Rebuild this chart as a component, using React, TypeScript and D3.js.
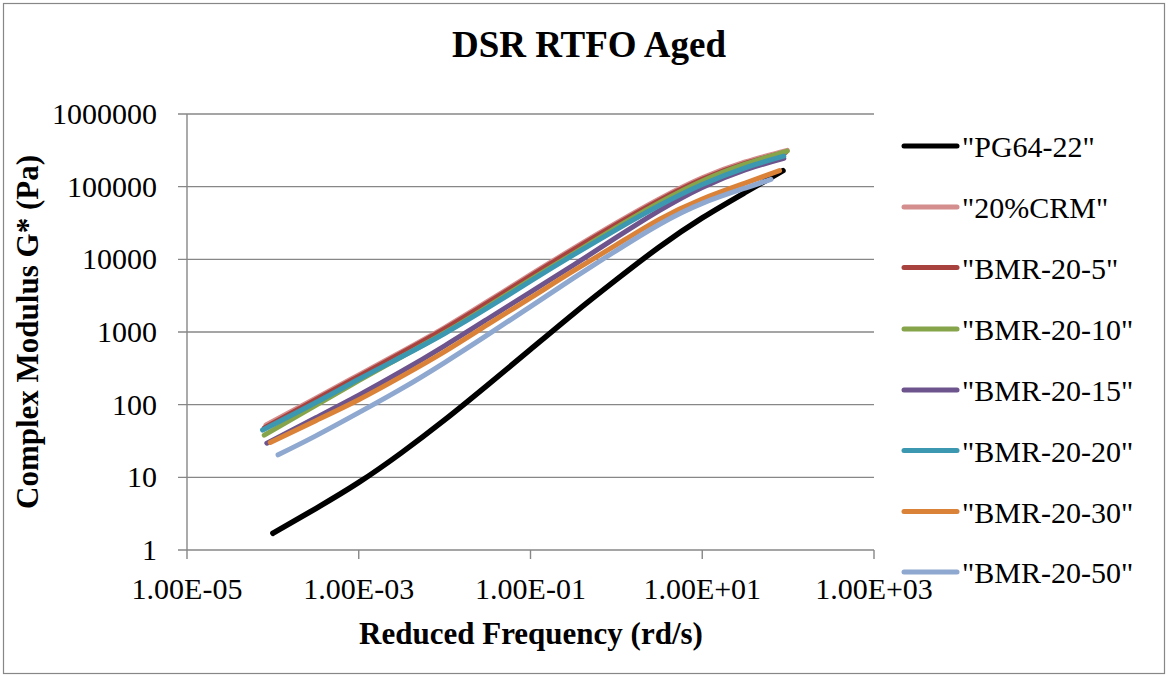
import React from "react";
import * as d3 from "d3";

// ---- Data ----
const seriesNames = [
  '"PG64-22"',
  '"20%CRM"',
  '"BMR-20-5"',
  '"BMR-20-10"',
  '"BMR-20-15"',
  '"BMR-20-20"',
  '"BMR-20-30"',
  '"BMR-20-50"',
];
const seriesColors = ["#000000", "#D48E8D", "#A8423F", "#86A44A", "#6E548D", "#3C97B0", "#DB8239", "#8EA8D0"];

const freqPG = [1.0e-4, 3.16e-4, 1e-3, 3.16e-3, 0.01, 0.0316, 0.1, 0.316, 1, 3.16, 10, 31.6, 87.1];
const gPG = [1.7, 3.72, 8.51, 21.9, 61.7, 186, 575, 1780, 5250, 14800, 37200, 83200, 166000];

const freqCRM = [8.32e-5, 3.16e-4, 1e-3, 3.16e-3, 0.01, 0.0316, 0.1, 0.316, 1, 3.16, 10, 31.6, 97.7];
const gCRM = [52.5, 123, 257, 537, 1150, 2630, 6170, 14100, 31600, 67600, 132000, 219000, 316000];

const freqB5 = [7.94e-5, 3.16e-4, 1e-3, 3.16e-3, 0.01, 0.0316, 0.1, 0.316, 1, 3.16, 10, 31.6, 93.3];
const gB5 = [47.9, 117, 245, 513, 1100, 2510, 5890, 13500, 30200, 64600, 126000, 209000, 295000];

const freqB10 = [7.94e-5, 3.16e-4, 1e-3, 3.16e-3, 0.01, 0.0316, 0.1, 0.316, 1, 3.16, 10, 31.6, 97.7];
const gB10 = [38.0, 97.7, 214, 457, 977, 2240, 5250, 12000, 27500, 60300, 120000, 204000, 309000];

const freqB15 = [8.51e-5, 3.16e-4, 1e-3, 3.16e-3, 0.01, 0.0316, 0.1, 0.316, 1, 3.16, 10, 31.6, 89.1];
const gB15 = [29.5, 66.1, 135, 288, 646, 1510, 3550, 8320, 20000, 46800, 97700, 170000, 245000];

const freqB20 = [7.59e-5, 3.16e-4, 1e-3, 3.16e-3, 0.01, 0.0316, 0.1, 0.316, 1, 3.16, 10, 31.6, 89.1];
const gB20 = [44.7, 107, 224, 457, 955, 2140, 5010, 11500, 25700, 55000, 107000, 182000, 263000];

const freqB30 = [9.33e-5, 3.16e-4, 1e-3, 3.16e-3, 0.01, 0.0316, 0.1, 0.316, 1, 3.16, 10, 31.6, 79.4];
const gB30 = [30.2, 60.3, 117, 245, 537, 1260, 2950, 6920, 15800, 35500, 67600, 112000, 166000];

const freqB50 = [1.15e-4, 3.16e-4, 1e-3, 3.16e-3, 0.01, 0.0316, 0.1, 0.316, 1, 3.16, 10, 31.6, 63.1];
const gB50 = [20.4, 37.2, 77.6, 166, 380, 912, 2240, 5500, 13200, 30200, 58900, 95500, 126000];

const xTicks = [1e-5, 1e-3, 1e-1, 1e1, 1e3];
const xTickLabels = ["1.00E-05", "1.00E-03", "1.00E-01", "1.00E+01", "1.00E+03"];
const yTicks = [1, 10, 100, 1000, 10000, 100000, 1000000];
const yTickLabels = ["1", "10", "100", "1000", "10000", "100000", "1000000"];

const freqs = [freqPG, freqCRM, freqB5, freqB10, freqB15, freqB20, freqB30, freqB50];
const gs = [gPG, gCRM, gB5, gB10, gB15, gB20, gB30, gB50];

export default function App() {
  const W = 1170, H = 677;
  const left = 187, right = 874, top = 114, bottom = 550;
  const x = d3.scaleLog().domain([1e-5, 1e3]).range([left, right]);
  const y = d3.scaleLog().domain([1, 1e6]).range([bottom, top]);
  const line = d3
    .line<[number, number]>()
    .x((d) => x(d[0]))
    .y((d) => y(d[1]))
    .curve(d3.curveNatural);
  const font = "'Liberation Serif', 'Times New Roman', serif";
  const grid = "#878787";
  const legendY = [146, 207, 267.5, 329, 390, 450.5, 511.5, 572];

  return (
    <svg
      width={W}
      height={H}
      style={{ position: "absolute", left: 0, top: 0, background: "#fff" }}
      fontFamily={font}
    >
      <rect x={0} y={0} width={W} height={H} fill="#fff" />
      <rect x={3.5} y={3.5} width={1161} height={670} fill="none" stroke={grid} strokeWidth={1.2} />
      <text x={589} y={57} textAnchor="middle" fontSize={37} fontWeight="bold" fill="#000">
        DSR RTFO Aged
      </text>
      {yTicks.map((t, i) => (
        <g key={"y" + i}>
          <line x1={178} x2={right} y1={y(t)} y2={y(t)} stroke={grid} strokeWidth={1.4} />
          <text x={157} y={y(t) + 10} textAnchor="end" fontSize={30} fill="#000">
            {yTickLabels[i]}
          </text>
        </g>
      ))}
      <line x1={left} x2={left} y1={top} y2={bottom} stroke={grid} strokeWidth={1.4} />
      {xTicks.map((t, i) => (
        <g key={"x" + i}>
          <line x1={x(t)} x2={x(t)} y1={bottom} y2={bottom + 9} stroke={grid} strokeWidth={1.4} />
          <text x={x(t)} y={599} textAnchor="middle" fontSize={30} fill="#000">
            {xTickLabels[i]}
          </text>
        </g>
      ))}
      {gs.map((g, si) => {
        const pts: [number, number][] = freqs[si].map((f, j) => [f, g[j]]);
        return (
          <path
            key={"s" + si}
            d={line(pts) || ""}
            fill="none"
            stroke={seriesColors[si]}
            strokeWidth={si === 0 ? 5.5 : 5}
            strokeLinecap="round"
            strokeLinejoin="round"
          />
        );
      })}
      <text x={531} y={644} textAnchor="middle" fontSize={31} fontWeight="bold" fill="#000">
        Reduced Frequency (rd/s)
      </text>
      <text
        transform={`translate(38, 332) rotate(-90)`}
        textAnchor="middle"
        fontSize={31}
        fontWeight="bold"
        fill="#000"
      >
        Complex Modulus G* (Pa)
      </text>
      {seriesNames.map((n, i) => (
        <g key={"l" + i}>
          <line
            x1={904}
            x2={957}
            y1={legendY[i]}
            y2={legendY[i]}
            stroke={seriesColors[i]}
            strokeWidth={5}
            strokeLinecap="round"
          />
          <text x={962} y={legendY[i] + 11} fontSize={30} fill="#000">
            {n}
          </text>
        </g>
      ))}
    </svg>
  );
}
